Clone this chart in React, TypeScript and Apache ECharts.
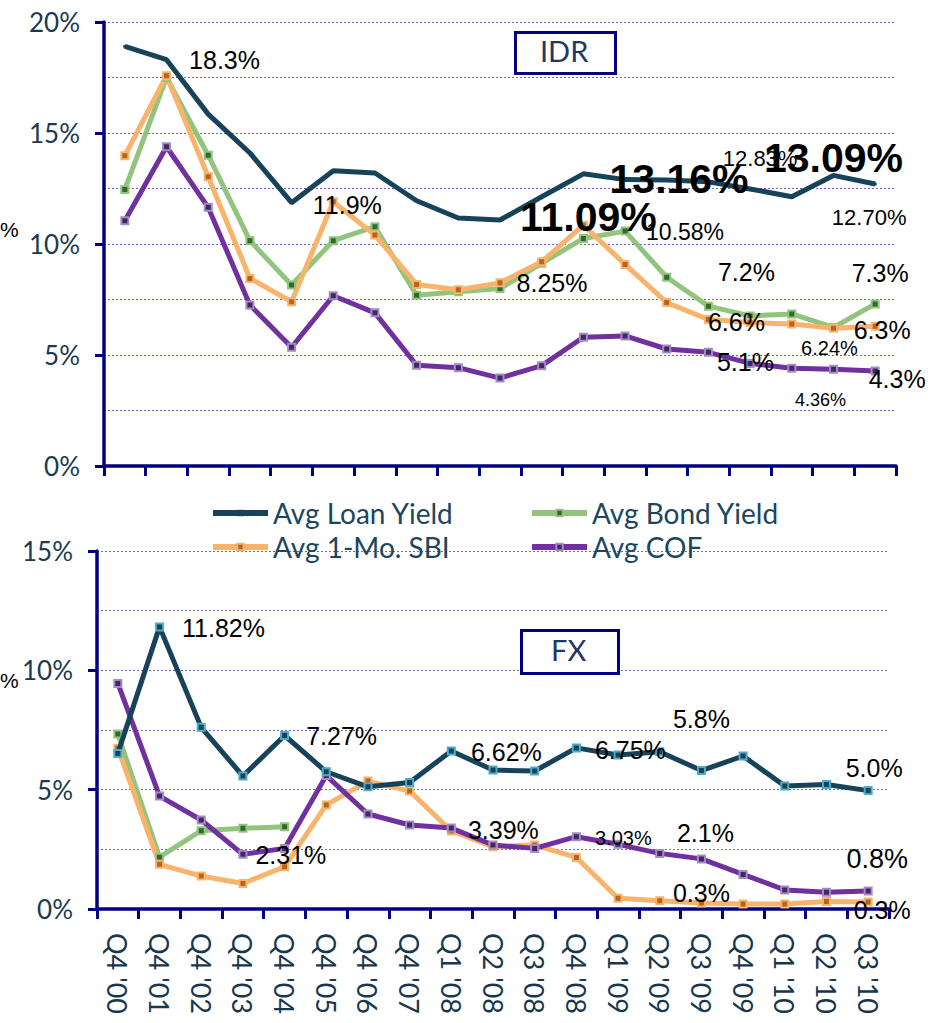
import React, { useEffect, useRef } from "react";
import * as echarts from "echarts";

const categories = ["Q4 '00", "Q4 '01", "Q4 '02", "Q4 '03", "Q4 '04", "Q4 '05", "Q4 '06", "Q4 '07", "Q1 '08", "Q2 '08", "Q3 '08", "Q4 '08", "Q1 '09", "Q2 '09", "Q3 '09", "Q4 '09", "Q1 '10", "Q2 '10", "Q3 '10"];

const seriesNames = ["Avg Loan Yield", "Avg Bond Yield", "Avg 1-Mo. SBI", "Avg COF"];

// IDR panel
const idrLoan = [18.9, 18.3, 15.85, 14.1, 11.86, 13.3, 13.2, 11.95, 11.17, 11.08, 12.13, 13.16, 12.9, 12.88, 12.8, 12.48, 12.13, 13.09, 12.7];
const idrBond = [12.46, 17.5, 14.0, 10.15, 8.15, 10.15, 10.78, 7.69, 7.85, 7.99, 9.13, 10.25, 10.58, 8.5, 7.2, 6.76, 6.85, 6.24, 7.3];
const idrSbi = [13.98, 17.58, 13.03, 8.45, 7.4, 11.9, 10.4, 8.18, 7.94, 8.25, 9.2, 10.85, 9.08, 7.36, 6.6, 6.46, 6.4, 6.2, 6.3];
const idrCof = [11.05, 14.38, 11.65, 7.25, 5.35, 7.67, 6.9, 4.54, 4.43, 3.96, 4.52, 5.8, 5.86, 5.27, 5.12, 4.62, 4.4, 4.36, 4.28];

// FX panel
const fxLoan = [6.52, 11.82, 7.61, 5.57, 7.27, 5.75, 5.12, 5.3, 6.62, 5.82, 5.78, 6.75, 6.45, 6.59, 5.8, 6.41, 5.15, 5.22, 4.96];
const fxBond = [7.33, 2.17, 3.28, 3.38, 3.45, null, null, null, null, null, null, null, null, null, null, null, null, null, null];
const fxSbi = [6.74, 1.87, 1.38, 1.07, 1.77, 4.36, 5.36, 4.94, 3.27, 2.61, 2.68, 2.16, 0.45, 0.35, 0.25, 0.21, 0.21, 0.31, 0.29];
const fxCof = [9.45, 4.73, 3.73, 2.29, 2.54, 5.59, 3.98, 3.52, 3.39, 2.68, 2.54, 3.03, 2.71, 2.33, 2.1, 1.45, 0.8, 0.7, 0.75];

const idrTicks = [0, 5, 10, 15, 20];
const fxTicks = [0, 5, 10, 15];

type Ann = { s: number; i: number; t: string; dx: number; dy: number; fs: number; b?: boolean };

const idrAnnotations: Ann[] = [
  { s: 0, i: 1, t: "18.3%", dx: 58, dy: 0, fs: 25 },
  { s: 2, i: 5, t: "11.9%", dx: 14, dy: 3, fs: 25 },
  { s: 2, i: 9, t: "8.25%", dx: 52, dy: 0, fs: 25 },
  { s: 1, i: 12, t: "10.58%", dx: 60, dy: 1, fs: 23 },
  { s: 0, i: 15, t: "12.83%", dx: 10, dy: -30, fs: 22 },
  { s: 0, i: 18, t: "12.70%", dx: -6, dy: 33, fs: 22 },
  { s: 1, i: 14, t: "7.2%", dx: 38, dy: -34, fs: 25 },
  { s: 1, i: 18, t: "7.3%", dx: 5, dy: -31, fs: 25 },
  { s: 2, i: 14, t: "6.6%", dx: 28, dy: 3, fs: 25 },
  { s: 2, i: 18, t: "6.3%", dx: 7, dy: 4, fs: 25 },
  { s: 2, i: 17, t: "6.24%", dx: -4, dy: 20, fs: 20 },
  { s: 3, i: 14, t: "5.1%", dx: 37, dy: 10, fs: 25 },
  { s: 3, i: 18, t: "4.3%", dx: 22, dy: 8, fs: 25 },
  { s: 3, i: 17, t: "4.36%", dx: -13, dy: 31, fs: 18 },
  { s: 2, i: 11, t: "11.09%", dx: 5, dy: -8, fs: 41, b: true },
  { s: 0, i: 12, t: "13.16%", dx: 54, dy: -1, fs: 41, b: true },
  { s: 0, i: 17, t: "13.09%", dx: 0, dy: -17, fs: 41, b: true },
];

const fxAnnotations: Ann[] = [
  { s: 0, i: 1, t: "11.82%", dx: 64, dy: 1, fs: 25 },
  { s: 0, i: 4, t: "7.27%", dx: 57, dy: 1, fs: 25 },
  { s: 0, i: 8, t: "6.62%", dx: 55, dy: 1, fs: 25 },
  { s: 0, i: 11, t: "6.75%", dx: 54, dy: 2, fs: 25 },
  { s: 0, i: 14, t: "5.8%", dx: 0, dy: -52, fs: 25 },
  { s: 0, i: 18, t: "5.0%", dx: 6, dy: -23, fs: 25 },
  { s: 3, i: 3, t: "2.31%", dx: 48, dy: 1, fs: 25 },
  { s: 3, i: 8, t: "3.39%", dx: 52, dy: 2, fs: 25 },
  { s: 3, i: 11, t: "3.03%", dx: 47, dy: 1, fs: 20 },
  { s: 3, i: 14, t: "2.1%", dx: 4, dy: -26, fs: 25 },
  { s: 3, i: 18, t: "0.8%", dx: 9, dy: -32, fs: 27 },
  { s: 2, i: 14, t: "0.3%", dx: 0, dy: -10, fs: 25 },
  { s: 2, i: 18, t: "0.3%", dx: 14, dy: 8, fs: 25 },
];

const lineColors = ["#17435A", "#93C47D", "#F9B36B", "#7030A0"];
const markerFill = ["#17435A", "#2F6B2F", "#B5651D", "#402860"];
const markerBorderTop = ["#17435A", "#93C47D", "#F9B36B", "#A58BC4"];
const markerBorderBottom = ["#4BACC6", "#93C47D", "#F9B36B", "#A58BC4"];

const AXIS = "#000080";
const LABEL_COLOR = "#1B3A4F";
const GRID_LINE = { color: "#6A6AC0", width: 1, type: [2, 2] as any };

export default function App() {
  const ref = useRef<HTMLDivElement>(null);

  useEffect(() => {
    if (!ref.current) return;
    const chart = echarts.init(ref.current, undefined, { renderer: "svg" });

    const idrData = [idrLoan, idrBond, idrSbi, idrCof];
    const fxData = [fxLoan, fxBond, fxSbi, fxCof];

    const buildMarks = (anns: Ann[], sIdx: number, data: (number | null)[]) =>
      anns
        .filter((a) => a.s === sIdx)
        .map((a) => ({
          coord: [categories[a.i], data[a.i]],
          symbol: "circle",
          symbolSize: 1,
          itemStyle: { color: "rgba(0,0,0,0)" },
          label: {
            show: true,
            position: "inside",
            offset: [a.dx, a.dy],
            formatter: a.t,
            fontSize: a.fs,
            fontWeight: a.b ? "bold" : "normal",
            fontFamily: "Liberation Sans, Arial, sans-serif",
            color: "#000",
          },
        }));

    const makeSeries = (panel: number) => {
      const datas = panel === 0 ? idrData : fxData;
      const anns = panel === 0 ? idrAnnotations : fxAnnotations;
      const borders = panel === 0 ? markerBorderTop : markerBorderBottom;
      const order = [1, 2, 3, 0];
      return order.map((k) => ({
        name: seriesNames[k],
        type: "line",
        xAxisIndex: panel,
        yAxisIndex: panel,
        data: datas[k],
        connectNulls: false,
        symbol: "rect",
        symbolSize: panel === 0 && k === 0 ? 3 : 7,
        showSymbol: true,
        lineStyle: { color: lineColors[k], width: 5 },
        itemStyle: {
          color: markerFill[k],
          borderColor: borders[k],
          borderWidth: panel === 0 && k === 0 ? 0 : 2,
        },
        z: k === 0 ? 5 : 3,
        markPoint: {
          silent: true,
          z: 10,
          data: buildMarks(anns, k, datas[k]),
        },
      }));
    };

    const yAxisCommon = (max: number) => ({
      type: "value",
      min: 0,
      max,
      interval: 5,
      axisLine: { show: true, lineStyle: { color: AXIS, width: 3.5 } },
      axisTick: { show: true, length: 9, lineStyle: { color: AXIS, width: 3 } },
      axisLabel: {
        margin: 24,
        fontSize: 26,
        color: LABEL_COLOR,
        fontFamily: "Lato, sans-serif",
        formatter: (v: number) => ((max === 20 ? idrTicks : fxTicks).includes(v) ? v + "%" : ""),
      },
      splitLine: { show: true, lineStyle: GRID_LINE },
      minorTick: { show: false, splitNumber: 2 },
      minorSplitLine: { show: true, lineStyle: GRID_LINE },
    });

    const legendBase = (name: string, left: number, top: number) => ({
      data: [name],
      left,
      top,
      padding: 0,
      itemWidth: 55,
      itemHeight: 8,
      itemGap: 0,
      lineStyle: { width: 6 },
      textStyle: { fontSize: 28, color: "#1A4660", fontFamily: "Lato, sans-serif" },
    });

    const option: any = {
      animation: false,
      backgroundColor: "#fff",
      grid: [
        { left: 104, top: 22, width: 792, height: 444 },
        { left: 97, top: 551, width: 792, height: 358 },
      ],
      xAxis: [
        {
          type: "category",
          gridIndex: 0,
          data: categories,
          boundaryGap: true,
          axisLine: { lineStyle: { color: AXIS, width: 3.5 } },
          axisTick: { show: true, length: 10, interval: 0, lineStyle: { color: AXIS, width: 3 } },
          axisLabel: { show: false },
          splitLine: { show: false },
        },
        {
          type: "category",
          gridIndex: 1,
          data: categories,
          boundaryGap: true,
          axisLine: { lineStyle: { color: AXIS, width: 3.5 } },
          axisTick: { show: true, length: 10, interval: 0, lineStyle: { color: AXIS, width: 3 } },
          axisLabel: {
            show: true,
            interval: 0,
            rotate: -90,
            margin: 24,
            fontSize: 27,
            color: "#17374F",
            fontFamily: "Lato, sans-serif",
          },
          splitLine: { show: false },
        },
      ],
      yAxis: [
        { ...yAxisCommon(20), gridIndex: 0 },
        { ...yAxisCommon(15), gridIndex: 1 },
      ],
      legend: [
        legendBase(seriesNames[0], 210, 499),
        legendBase(seriesNames[1], 529, 499),
        legendBase(seriesNames[2], 210, 533),
        legendBase(seriesNames[3], 529, 533),
      ],
      graphic: [
        {
          type: "rect",
          left: 514,
          top: 31,
          shape: { width: 100, height: 41 },
          style: { fill: "#fff", stroke: AXIS, lineWidth: 3 },
          z: 20,
        },
        {
          type: "text",
          left: 540,
          top: 36,
          style: { text: "IDR", fontSize: 29, fill: "#1F3864", fontFamily: "Lato, sans-serif" },
          z: 21,
        },
        {
          type: "rect",
          left: 520,
          top: 629,
          shape: { width: 97, height: 43 },
          style: { fill: "#fff", stroke: AXIS, lineWidth: 3 },
          z: 20,
        },
        {
          type: "text",
          left: 551,
          top: 635,
          style: { text: "FX", fontSize: 29, fill: "#1F3864", fontFamily: "Lato, sans-serif" },
          z: 21,
        },
        {
          type: "text",
          left: 0,
          top: 219,
          style: { text: "%", fontSize: 21, fill: "#000", fontFamily: "Liberation Sans, sans-serif" },
        },
        {
          type: "text",
          left: 0,
          top: 670,
          style: { text: "%", fontSize: 21, fill: "#000", fontFamily: "Liberation Sans, sans-serif" },
        },
      ],
      series: [...makeSeries(0), ...makeSeries(1)],
    };

    chart.setOption(option);
    return () => chart.dispose();
  }, []);

  return (
    <div
      ref={ref}
      style={{ position: "fixed", left: 0, top: 0, width: 943, height: 1023, background: "#fff" }}
    />
  );
}
